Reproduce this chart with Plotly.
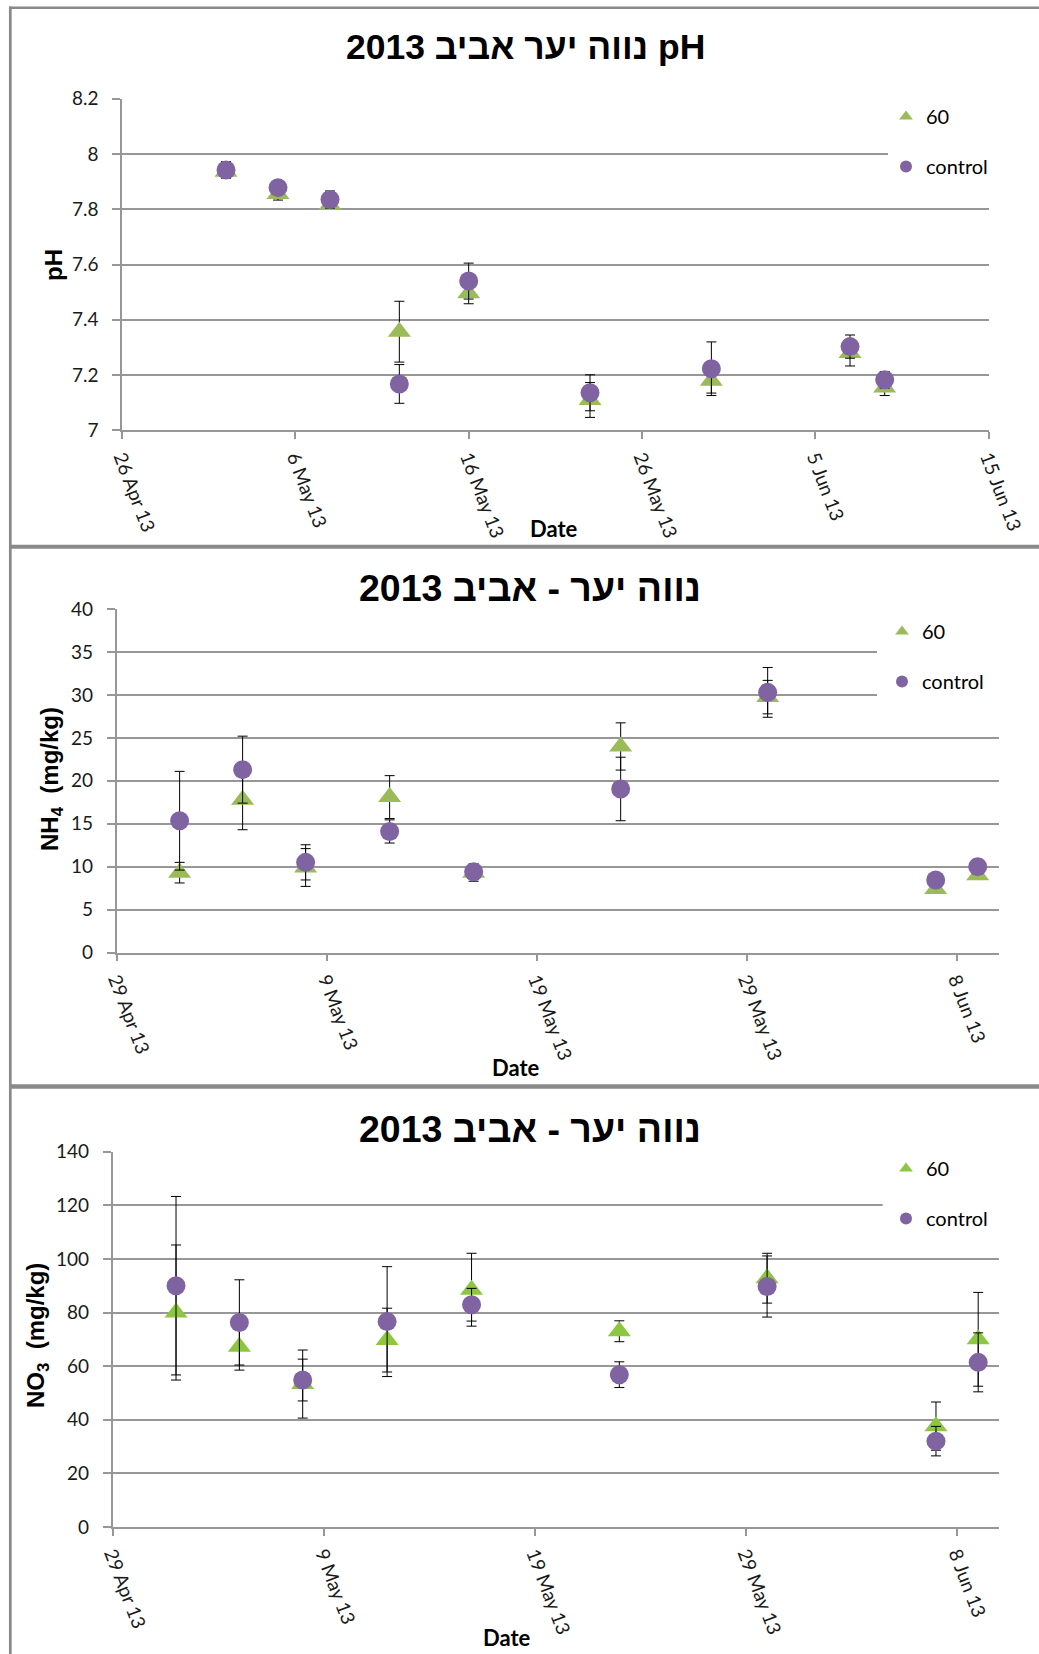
import plotly.graph_objects as go

W, H = 1039, 1654

# ---------------- data ----------------
dates = ["2013-05-02", "2013-05-05", "2013-05-08", "2013-05-12", "2013-05-16",
         "2013-05-23", "2013-05-30", "2013-06-07", "2013-06-09"]

ph_60 = [7.935, 7.855, 7.815, 7.357, 7.496, 7.110, 7.180, 7.280, 7.155]
ph_60_err = [0.020, 0.022, 0.010, 0.110, 0.038, 0.063, 0.045, 0.047, 0.029]
ph_ctrl = [7.942, 7.878, 7.835, 7.168, 7.540, 7.136, 7.223, 7.303, 7.183]
ph_ctrl_err = [0.030, 0.020, 0.031, 0.070, 0.065, 0.065, 0.097, 0.042, 0.030]

nh4_60 = [9.3, 17.8, 9.9, 18.1, 9.3, 24.0, 29.75, 7.4, 9.0]
nh4_60_err = [1.2, 3.5, 2.2, 2.5, 1.0, 2.75, 1.95, 0.5, 0.5]
nh4_ctrl = [15.35, 21.3, 10.5, 14.1, 9.4, 19.05, 30.3, 8.45, 10.0]
nh4_ctrl_err = [5.75, 3.9, 2.05, 1.35, 0.9, 3.7, 2.9, 0.5, 0.85]

no3_60 = [80.0, 67.2, 53.3, 69.7, 88.5, 73.0, 92.8, 37.6, 70.0]
no3_60_err = [25.2, 8.7, 12.7, 11.9, 13.6, 3.9, 9.3, 9.0, 17.5]
no3_ctrl = [90.0, 76.3, 54.8, 76.6, 82.9, 56.8, 89.7, 32.0, 61.4]
no3_ctrl_err = [33.3, 15.9, 7.8, 20.5, 6.1, 4.8, 11.4, 5.5, 11.0]

series_names = ["60", "control"]

ph_x_tickvals = ["2013-04-26", "2013-05-06", "2013-05-16", "2013-05-26", "2013-06-05", "2013-06-15"]
ph_x_ticktext = ["26 Apr 13", "6 May 13", "16 May 13", "26 May 13", "5 Jun 13", "15 Jun 13"]
nut_x_tickvals = ["2013-04-29", "2013-05-09", "2013-05-19", "2013-05-29", "2013-06-08"]
nut_x_ticktext = ["29 Apr 13", "9 May 13", "19 May 13", "29 May 13", "8 Jun 13"]

ph_y_tickvals = [7, 7.2, 7.4, 7.6, 7.8, 8, 8.2]
ph_y_ticktext = ["7", "7.2", "7.4", "7.6", "7.8", "8", "8.2"]
nh4_y_tickvals = [0, 5, 10, 15, 20, 25, 30, 35, 40]
nh4_y_ticktext = ["0", "5", "10", "15", "20", "25", "30", "35", "40"]
no3_y_tickvals = [0, 20, 40, 60, 80, 100, 120, 140]
no3_y_ticktext = ["0", "20", "40", "60", "80", "100", "120", "140"]

titles = ["2013 נווה יער אביב pH", "2013 נווה יער - אביב", "2013 נווה יער - אביב"]
y_titles = ["<b>pH</b>", "<b>NH<sub>4</sub>  (mg/kg)</b>", "<b>NO<sub>3</sub>  (mg/kg)</b>"]
x_title = "<b>Date</b>"

# ---------------- styling ----------------
PURPLE = "#8064A2"
GRID = "#979797"
BORDER = "#898989"
XTICKFONT = dict(family="Lato", size=19, color="#1a1a1a")
YTICKFONT = dict(family="Lato", size=19, color="#1a1a1a")


def px_x(px):
    return px / W


def px_y(py):
    return 1 - py / H


panels = [
    dict(ax="", leg="legend", box=(122.0, 988.7, 98.6, 430.4),
         xr=["2013-04-26", "2013-06-15"], xtv=ph_x_tickvals, xtt=ph_x_ticktext,
         yr=[7, 8.2], ytv=ph_y_tickvals, ytt=ph_y_ticktext,
         d60=ph_60, e60=ph_60_err, dc=ph_ctrl, ec=ph_ctrl_err, green="#9BBB59",
         title_pos=(525, 47), title_size=35.5, ytitle_pos=(53, 265), date_pos=(554, 528),
         leg_pos=(886, 97), cover=(888, 88, 1039, 185)),
    dict(ax="2", leg="legend2", box=(116.6, 998.7, 609.1, 952.5),
         xr=["2013-04-29", "2013-06-10"], xtv=nut_x_tickvals, xtt=nut_x_ticktext,
         yr=[0, 40], ytv=nh4_y_tickvals, ytt=nh4_y_ticktext,
         d60=nh4_60, e60=nh4_60_err, dc=nh4_ctrl, ec=nh4_ctrl_err, green="#9BBB59",
         title_pos=(530, 588), title_size=37.5, ytitle_pos=(51, 779), date_pos=(516, 1067),
         leg_pos=(882, 612), cover=(877, 600, 1039, 715)),
    dict(ax="3", leg="legend3", box=(112.7, 999.3, 1151.7, 1526.9),
         xr=["2013-04-29", "2013-06-10"], xtv=nut_x_tickvals, xtt=nut_x_ticktext,
         yr=[0, 140], ytv=no3_y_tickvals, ytt=no3_y_ticktext,
         d60=no3_60, e60=no3_60_err, dc=no3_ctrl, ec=no3_ctrl_err, green="#8DC63F",
         title_pos=(530, 1129), title_size=37.5, ytitle_pos=(37, 1336), date_pos=(507, 1637),
         leg_pos=(886, 1149), cover=(882.7, 1142, 1039, 1232)),
]

fig = go.Figure()
annotations = []
shapes = []
layout = dict(width=W, height=H, autosize=False,
              margin=dict(l=0, r=0, t=0, b=0, pad=0, autoexpand=False),
              paper_bgcolor="white", plot_bgcolor="white", showlegend=True)

for i, p in enumerate(panels):
    xa = "x" + p["ax"]
    ya = "y" + p["ax"]
    for name, vals, errs, sym, col, size in [
        (series_names[0], p["d60"], p["e60"], "triangle-up", p["green"], 20),
        (series_names[1], p["dc"], p["ec"], "circle", PURPLE, 19),
    ]:
        fig.add_trace(go.Scatter(
            x=dates, y=vals, mode="markers", name=name,
            xaxis=xa, yaxis=ya, legend=p["leg"], legendgroup=f"{name}_{i}",
            marker=dict(symbol=sym, size=size, color=col, line=dict(width=0)),
            error_y=dict(type="data", array=errs, visible=True,
                         color="black", thickness=1, width=5),
            hoverinfo="x+y+name",
        ))
    l, r, t, b = p["box"]
    xkey = "xaxis" + p["ax"]
    ykey = "yaxis" + p["ax"]
    layout[xkey] = dict(
        domain=[px_x(l), px_x(r)], anchor=ya, type="date", range=p["xr"],
        tickmode="array", tickvals=p["xtv"], ticktext=p["xtt"], tickangle=69,
        showgrid=False, showline=True, linecolor=GRID, linewidth=1.5,
        ticks="outside", ticklen=7, tickcolor=GRID, tickwidth=1.5,
        tickfont=XTICKFONT, ticklabelstandoff=0, zeroline=False, automargin=False,
    )
    layout[ykey] = dict(
        domain=[px_y(b), px_y(t)], anchor=xa, range=p["yr"],
        tickmode="array", tickvals=p["ytv"], ticktext=p["ytt"],
        showgrid=True, gridcolor=GRID, gridwidth=1.5,
        showline=True, linecolor=GRID, linewidth=1.5,
        ticks="outside", ticklen=8, tickcolor=GRID, tickwidth=1.5,
        tickfont=YTICKFONT, ticklabelstandoff=10, zeroline=False, automargin=False,
    )
    lx, ly = p["leg_pos"]
    layout[p["leg"]] = dict(
        x=px_x(lx), y=px_y(ly), xanchor="left", yanchor="top",
        bgcolor="rgba(0,0,0,0)", borderwidth=0,
        font=dict(family="Lato", size=20, color="black"),
        traceorder="grouped", tracegroupgap=21, itemsizing="constant",
    )
    cx0, cy0, cx1, cy1 = p["cover"]
    shapes.append(dict(type="rect", xref="paper", yref="paper", layer="above",
                       x0=px_x(cx0), x1=px_x(cx1), y0=px_y(cy1), y1=px_y(cy0),
                       fillcolor="white", line=dict(width=0)))
    tx, ty = p["title_pos"]
    annotations.append(dict(text="<b>" + titles[i] + "</b>", x=px_x(tx), y=px_y(ty),
                            xref="paper", yref="paper", showarrow=False,
                            xanchor="center", yanchor="middle",
                            font=dict(family="Liberation Sans", size=p["title_size"],
                                      color="black")))
    yx, yy = p["ytitle_pos"]
    annotations.append(dict(text=y_titles[i], x=px_x(yx), y=px_y(yy),
                            xref="paper", yref="paper", showarrow=False, textangle=-90,
                            xanchor="center", yanchor="middle",
                            font=dict(family="Liberation Sans", size=24, color="black")))
    dx, dy = p["date_pos"]
    annotations.append(dict(text=x_title, x=px_x(dx), y=px_y(dy),
                            xref="paper", yref="paper", showarrow=False,
                            xanchor="center", yanchor="middle",
                            font=dict(family="Lato", size=22, color="black")))


# panel borders
def hline(y, x0, x1, w):
    return dict(type="line", xref="paper", yref="paper", layer="above",
                x0=px_x(x0), x1=px_x(x1), y0=px_y(y), y1=px_y(y),
                line=dict(color=BORDER, width=w))


shapes.append(hline(7.7, 9, W, 2.5))
shapes.append(hline(546.7, 9, W, 4))
shapes.append(hline(1086.5, 9, W, 4.5))
shapes.append(dict(type="line", xref="paper", yref="paper", layer="above",
                   x0=px_x(10.3), x1=px_x(10.3), y0=0, y1=px_y(6.5),
                   line=dict(color=BORDER, width=2.7)))

layout["annotations"] = annotations
layout["shapes"] = shapes
fig.update_layout(**layout)

css_js = ("var s=document.createElement('style');"
          "s.innerHTML='html,body{margin:0!important;padding:0!important;overflow:hidden!important;}';"
          "document.head.appendChild(s);document.body.style.margin='0';")
fig.write_html("out.html", config={"displayModeBar": False}, post_script=css_js)
